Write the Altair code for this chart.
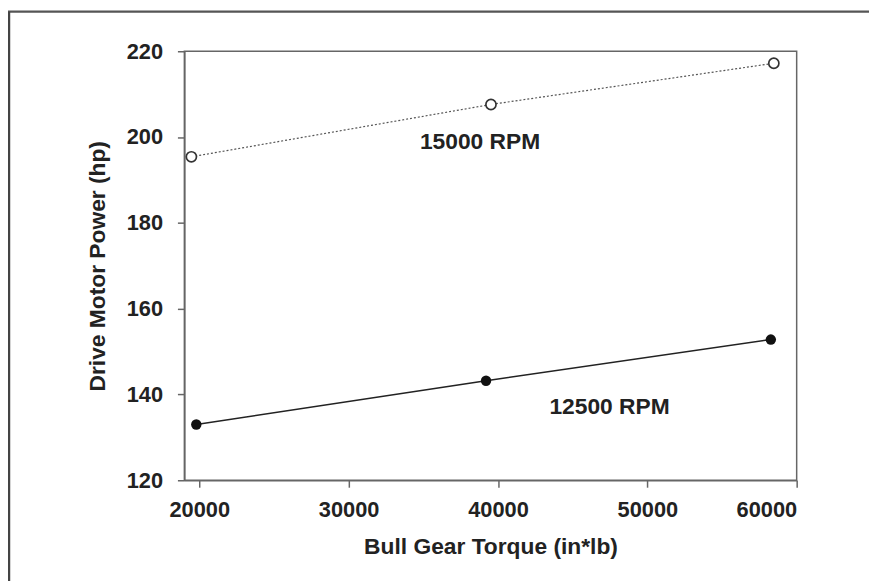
import altair as alt
import pandas as pd

torque_15000 = [19470, 39530, 58470]
power_15000 = [195.4, 207.6, 217.2]
torque_12500 = [19800, 39200, 58270]
power_12500 = [133.0, 143.2, 152.8]

label_text = ["15000 RPM", "12500 RPM"]
label_x = [38800, 47470]
label_y = [198.8, 137.0]

x_ticks = [20000, 30000, 40000, 50000, 60000]
y_ticks = [120, 140, 160, 180, 200, 220]

df15 = pd.DataFrame({"Torque": torque_15000, "Power": power_15000})
df12 = pd.DataFrame({"Torque": torque_12500, "Power": power_12500})
dflab = pd.DataFrame({"text": label_text, "Torque": label_x, "Power": label_y})

FONT = "Liberation Sans"

xenc = alt.X("Torque:Q",
             scale=alt.Scale(domain=[19000, 60000], nice=False, zero=False),
             axis=alt.Axis(values=x_ticks, format="d", title="Bull Gear Torque (in*lb)"))
yenc = alt.Y("Power:Q",
             scale=alt.Scale(domain=[120, 220], nice=False, zero=False),
             axis=alt.Axis(values=y_ticks, format="d", title="Drive Motor Power (hp)"))

line15 = alt.Chart(df15).mark_line(color="#555555", strokeWidth=1.2, strokeDash=[2, 2]).encode(x=xenc, y=yenc)
pts15 = alt.Chart(df15).mark_point(shape="circle", filled=True, fill="white", stroke="#333333",
                                   strokeWidth=1.7, size=105, opacity=1).encode(x="Torque:Q", y="Power:Q")
line12 = alt.Chart(df12).mark_line(color="#222222", strokeWidth=1.5).encode(x="Torque:Q", y="Power:Q")
pts12 = alt.Chart(df12).mark_point(shape="circle", filled=True, color="#111111", size=110,
                                   opacity=1).encode(x="Torque:Q", y="Power:Q")
labels = alt.Chart(dflab).mark_text(font=FONT, fontSize=23, fontWeight="bold", color="#222222").encode(
    x="Torque:Q", y="Power:Q", text="text:N")

frame_data = pd.DataFrame({"k": [0]})
top_rule = alt.Chart(frame_data).mark_rule(color="#555555", strokeWidth=2.5).encode(
    x=alt.value(-178), x2=alt.value(720), y=alt.value(-40))
left_rule = alt.Chart(frame_data).mark_rule(color="#444444", strokeWidth=2.5).encode(
    x=alt.value(-177), y=alt.value(-40), y2=alt.value(540))

chart = alt.layer(line15, line12, pts15, pts12, labels, top_rule, left_rule).properties(
    width=618, height=433,
    autosize=alt.AutoSizeParams(type="none"),
    padding={"left": 178, "top": 41, "right": 73, "bottom": 99},
    background="white",
).configure_view(
    stroke="#666666", strokeWidth=1.5
).configure_axis(
    grid=False,
    domainColor="#666666", domainWidth=1.5,
    tickColor="#666666", tickWidth=1.5, tickSize=7,
    labelFont=FONT, labelFontSize=22, labelFontWeight="bold", labelColor="#222222",
    titleFont=FONT, titleFontSize=23, titleFontWeight="bold", titleColor="#222222",
).configure_axisY(
    labelPadding=15, titlePadding=17
).configure_axisX(
    labelPadding=13, titlePadding=15
)

chart.save("out.html", embed_options={"renderer": "svg", "actions": False})
